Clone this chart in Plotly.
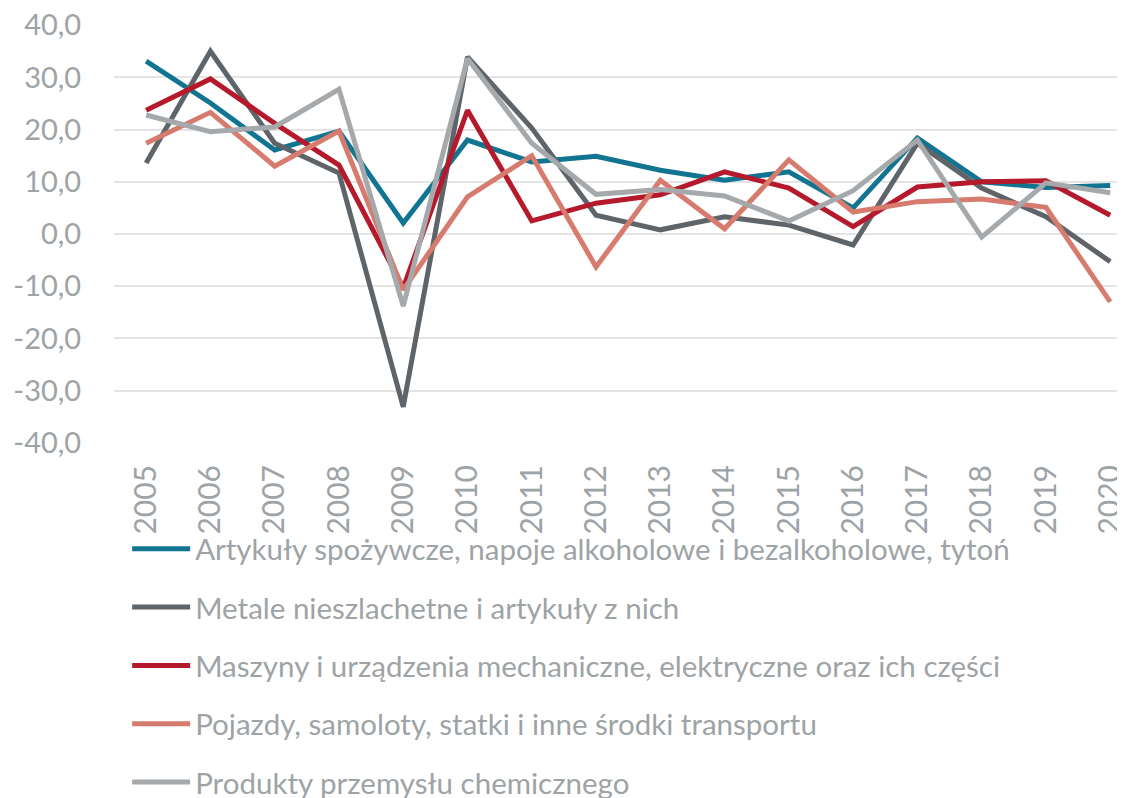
import plotly.graph_objects as go

years = [str(y) for y in range(2005, 2021)]

artykuly_spozywcze = [33.1, 25.1, 16.1, 19.7, 2.1, 18.0, 13.8, 14.9, 12.2, 10.3, 11.9, 5.0, 18.4, 10.0, 8.9, 9.3]
metale = [13.6, 35.0, 17.4, 11.7, -33.1, 33.9, 20.3, 3.6, 0.8, 3.3, 1.7, -2.1, 17.4, 8.8, 3.3, -5.3]
maszyny = [23.7, 29.7, 21.2, 13.2, -10.3, 23.7, 2.5, 5.9, 7.5, 11.9, 8.8, 1.4, 9.0, 10.0, 10.2, 3.6]
pojazdy = [17.4, 23.3, 13.0, 19.7, -10.7, 7.1, 15.0, -6.3, 10.3, 1.0, 14.2, 4.2, 6.2, 6.7, 5.1, -13.0]
chemia = [22.8, 19.6, 20.5, 27.7, -13.8, 33.6, 17.4, 7.6, 8.5, 7.3, 2.5, 8.3, 18.0, -0.6, 9.8, 7.9]

series_names = [
    "Artykuły spożywcze, napoje alkoholowe i bezalkoholowe, tytoń",
    "Metale nieszlachetne i artykuły z nich",
    "Maszyny i urządzenia mechaniczne, elektryczne oraz ich części",
    "Pojazdy, samoloty, statki i inne środki transportu",
    "Produkty przemysłu chemicznego",
]
series_values = [artykuly_spozywcze, metale, maszyny, pojazdy, chemia]
colors = ["#117592", "#5E6468", "#B5192B", "#D67B6E", "#A6A9AC"]

y_ticks = [40, 30, 20, 10, 0, -10, -20, -30, -40]
y_tick_labels = ["40,0", "30,0", "20,0", "10,0", "0,0", "-10,0", "-20,0", "-30,0", "-40,0"]

FONT = "Lato, Carlito, sans-serif"
GREY = "#9EA3A6"

fig = go.Figure()
for i, (name, vals, col) in enumerate(zip(series_names, series_values, colors)):
    fig.add_trace(go.Scatter(
        x=years, y=vals, name=name, mode="lines",
        line=dict(color=col, width=5),
        legendgroup=f"g{i}",
    ))

fig.update_layout(
    width=1117, height=790,
    paper_bgcolor="white", plot_bgcolor="white",
    margin=dict(l=106, r=0, t=17, b=355),
    font=dict(family=FONT, color=GREY, size=29),
    xaxis=dict(
        type="category", range=[-0.5, 15.23], automargin=False,
        tickangle=-90, showgrid=False, showline=False, zeroline=False,
        tickfont=dict(size=30, color=GREY), ticklabeloverflow="allow",
        ticks="outside", ticklen=9, tickcolor="rgba(0,0,0,0)",
    ),
    yaxis=dict(
        range=[-40.03, 40.03], tickvals=y_ticks, ticktext=y_tick_labels, automargin=False,
        showgrid=True, gridcolor="#E4E4E4", gridwidth=1.5,
        zeroline=False, showline=False, ticklabeloverflow="allow",
        ticks="outside", ticklen=26, tickcolor="rgba(0,0,0,0)",
        tickfont=dict(size=29, color=GREY),
    ),
    legend=dict(
        orientation="v", x=0.013, xanchor="left", xref="paper",
        y=1 - 515 / 790, yanchor="top", yref="container",
        font=dict(size=29.5, color=GREY), tracegroupgap=17, itemwidth=58,
        bgcolor="rgba(0,0,0,0)",
    ),
    showlegend=True,
)

fig.write_html("out.html")
